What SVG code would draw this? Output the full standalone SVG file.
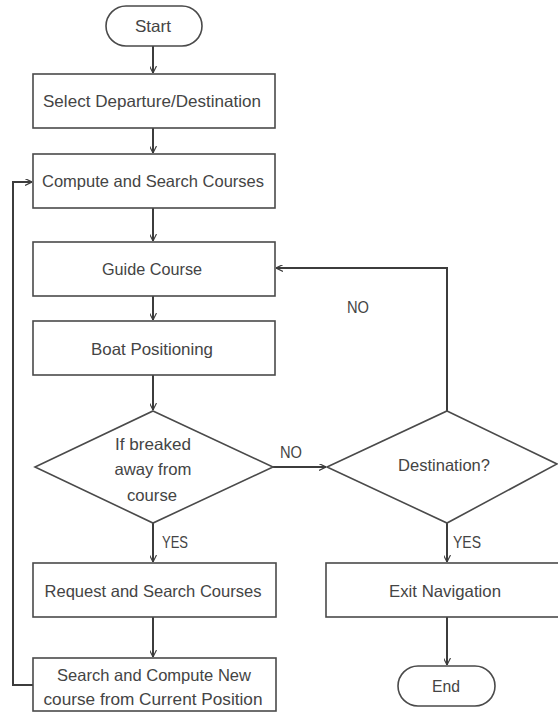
<svg xmlns="http://www.w3.org/2000/svg" width="558" height="713" viewBox="0 0 558 713">
  <style>
    .box { fill: #ffffff; stroke: #4a4a4a; stroke-width: 1.6; }
    .lbl { font-family: "Liberation Sans", Arial, sans-serif; font-size: 16.5px; fill: #444444; text-anchor: middle; }
    .edge { fill: none; stroke: #3c3c3c; stroke-width: 2; }
  </style>
  <defs>
    <marker id="arrow" viewBox="0 0 10 10" refX="10" refY="5" markerWidth="7" markerHeight="7" markerUnits="userSpaceOnUse" orient="auto">
      <path d="M0,0 L10,5 L0,10" fill="none" stroke="#3c3c3c" stroke-width="1.6"/>
    </marker>
  </defs>
  <rect width="558" height="713" fill="#ffffff"/>

  <g id="connectors">
    <path class="edge" d="M153,46 V73" marker-end="url(#arrow)"/>
    <path class="edge" d="M153,128 V153" marker-end="url(#arrow)"/>
    <path class="edge" d="M153,208 V241" marker-end="url(#arrow)"/>
    <path class="edge" d="M153,296 V320" marker-end="url(#arrow)"/>
    <path class="edge" d="M153,375 V410" marker-end="url(#arrow)"/>
    <path class="edge" d="M153,523 V562" marker-end="url(#arrow)"/>
    <path class="edge" d="M153,617 V657" marker-end="url(#arrow)"/>
    <path class="edge" d="M33,685 H13 V182 H32" marker-end="url(#arrow)"/>
    <path class="edge" d="M273,467 H326" marker-end="url(#arrow)"/>
    <path class="edge" d="M447,411 V268 H276" marker-end="url(#arrow)"/>
    <path class="edge" d="M447,523 V562" marker-end="url(#arrow)"/>
    <path class="edge" d="M447,617 V665" marker-end="url(#arrow)"/>
    <text class="lbl" x="358" y="313" textLength="22" lengthAdjust="spacingAndGlyphs">NO</text>
    <text class="lbl" x="291" y="458" textLength="22" lengthAdjust="spacingAndGlyphs">NO</text>
    <text class="lbl" x="175" y="548" textLength="26" lengthAdjust="spacingAndGlyphs">YES</text>
    <text class="lbl" x="467" y="548" textLength="28" lengthAdjust="spacingAndGlyphs">YES</text>
  </g>

  <g id="start">
    <rect class="box" x="106" y="6" width="96" height="40" rx="20"/>
    <text class="lbl" x="153" y="32" textLength="36" lengthAdjust="spacingAndGlyphs">Start</text>
  </g>
  <g id="select">
    <rect class="box" x="33" y="74" width="242" height="54"/>
    <text class="lbl" x="152" y="107" textLength="218" lengthAdjust="spacingAndGlyphs">Select Departure/Destination</text>
  </g>
  <g id="compute">
    <rect class="box" x="33" y="154" width="242" height="54"/>
    <text class="lbl" x="153" y="187" textLength="222" lengthAdjust="spacingAndGlyphs">Compute and Search Courses</text>
  </g>
  <g id="guide">
    <rect class="box" x="33" y="242" width="242" height="54"/>
    <text class="lbl" x="152" y="275" textLength="100" lengthAdjust="spacingAndGlyphs">Guide Course</text>
  </g>
  <g id="positioning">
    <rect class="box" x="33" y="321" width="242" height="54"/>
    <text class="lbl" x="152" y="355" textLength="122" lengthAdjust="spacingAndGlyphs">Boat Positioning</text>
  </g>
  <g id="breakaway">
    <polygon class="box" points="153,411 273,467 153,523 35,467"/>
    <text class="lbl" x="153" y="450" textLength="76" lengthAdjust="spacingAndGlyphs">If breaked</text>
    <text class="lbl" x="153" y="475" textLength="77" lengthAdjust="spacingAndGlyphs">away from</text>
    <text class="lbl" x="152" y="501" textLength="50" lengthAdjust="spacingAndGlyphs">course</text>
  </g>
  <g id="destination">
    <polygon class="box" points="447,411 557,464 447,523 327,467"/>
    <text class="lbl" x="444" y="471" textLength="92" lengthAdjust="spacingAndGlyphs">Destination?</text>
  </g>
  <g id="request">
    <rect class="box" x="33" y="563" width="243" height="54"/>
    <text class="lbl" x="153" y="597" textLength="217" lengthAdjust="spacingAndGlyphs">Request and Search Courses</text>
  </g>
  <g id="recompute">
    <rect class="box" x="33" y="658" width="243" height="53"/>
    <text class="lbl" x="154" y="681" textLength="194" lengthAdjust="spacingAndGlyphs">Search and Compute New</text>
    <text class="lbl" x="153" y="705" textLength="219" lengthAdjust="spacingAndGlyphs">course from Current Position</text>
  </g>
  <g id="exit">
    <rect class="box" x="326" y="563" width="240" height="54"/>
    <text class="lbl" x="445" y="597" textLength="112" lengthAdjust="spacingAndGlyphs">Exit Navigation</text>
  </g>
  <g id="end">
    <rect class="box" x="398" y="666" width="97" height="40" rx="20"/>
    <text class="lbl" x="446" y="692" textLength="28" lengthAdjust="spacingAndGlyphs">End</text>
  </g>
</svg>
